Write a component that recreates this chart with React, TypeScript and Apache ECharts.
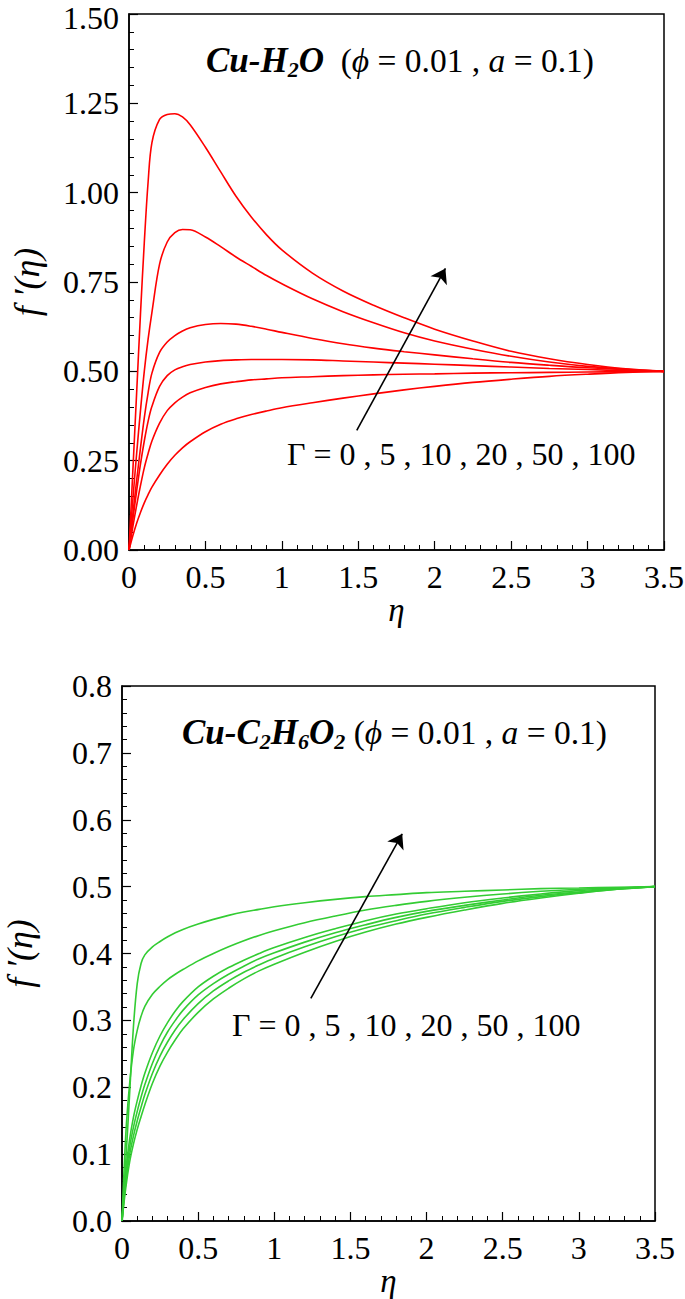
import React, { useEffect, useRef } from "react";
import * as echarts from "echarts";

// eta grid shared by all curves
const ETA = [0, 0.025, 0.05, 0.075, 0.1, 0.125, 0.15, 0.2, 0.25, 0.3, 0.35, 0.4, 0.5, 0.6, 0.7, 0.8, 0.9, 1.0, 1.2, 1.4, 1.6, 1.8, 2.0, 2.25, 2.5, 2.75, 3.0, 3.25, 3.5];
const GAMMAS = [0, 5, 10, 20, 50, 100];

// Cu-H2O, f'(eta) for Gamma = 0, 5, 10, 20, 50, 100
const H2O_G0 = [0, 0.04, 0.075, 0.105, 0.132, 0.155, 0.176, 0.21, 0.24, 0.265, 0.286, 0.303, 0.331, 0.352, 0.367, 0.379, 0.389, 0.398, 0.412, 0.425, 0.437, 0.448, 0.458, 0.469, 0.478, 0.486, 0.492, 0.497, 0.5];
const H2O_G5 = [0, 0.065, 0.125, 0.18, 0.23, 0.27, 0.305, 0.355, 0.39, 0.412, 0.428, 0.44, 0.455, 0.465, 0.471, 0.476, 0.479, 0.482, 0.485, 0.488, 0.49, 0.492, 0.493, 0.495, 0.496, 0.497, 0.498, 0.499, 0.5];
const H2O_G10 = [0, 0.085, 0.165, 0.24, 0.305, 0.36, 0.402, 0.458, 0.488, 0.504, 0.513, 0.519, 0.526, 0.53, 0.532, 0.533, 0.533, 0.533, 0.532, 0.529, 0.526, 0.523, 0.52, 0.516, 0.512, 0.508, 0.505, 0.502, 0.5];
const H2O_G20 = [0, 0.1, 0.195, 0.285, 0.37, 0.44, 0.495, 0.553, 0.582, 0.6, 0.613, 0.622, 0.631, 0.634, 0.632, 0.626, 0.618, 0.609, 0.592, 0.577, 0.565, 0.555, 0.546, 0.535, 0.525, 0.517, 0.51, 0.505, 0.5];
const H2O_G50 = [0, 0.14, 0.27, 0.39, 0.5, 0.59, 0.665, 0.8, 0.862, 0.888, 0.897, 0.896, 0.876, 0.849, 0.82, 0.794, 0.768, 0.745, 0.703, 0.667, 0.636, 0.608, 0.585, 0.562, 0.542, 0.526, 0.514, 0.506, 0.5];
const H2O_G100 = [0, 0.22, 0.44, 0.66, 0.86, 1.03, 1.14, 1.205, 1.219, 1.221, 1.212, 1.19, 1.127, 1.058, 0.99, 0.932, 0.882, 0.84, 0.775, 0.725, 0.685, 0.65, 0.618, 0.585, 0.556, 0.535, 0.519, 0.507, 0.5];

// Cu-C2H6O2
const EG_G0 = [0, 0.05, 0.088, 0.115, 0.137, 0.156, 0.174, 0.206, 0.232, 0.253, 0.271, 0.287, 0.312, 0.332, 0.348, 0.362, 0.374, 0.384, 0.402, 0.418, 0.432, 0.444, 0.454, 0.465, 0.475, 0.483, 0.49, 0.496, 0.5];
const EG_G5 = [0, 0.058, 0.099, 0.127, 0.15, 0.17, 0.189, 0.221, 0.247, 0.268, 0.286, 0.301, 0.325, 0.344, 0.359, 0.372, 0.383, 0.393, 0.41, 0.425, 0.438, 0.449, 0.459, 0.469, 0.478, 0.485, 0.491, 0.496, 0.5];
const EG_G10 = [0, 0.066, 0.11, 0.14, 0.164, 0.185, 0.204, 0.236, 0.262, 0.283, 0.3, 0.315, 0.338, 0.355, 0.369, 0.381, 0.392, 0.401, 0.417, 0.431, 0.443, 0.454, 0.463, 0.472, 0.48, 0.487, 0.492, 0.497, 0.5];
const EG_G20 = [0, 0.075, 0.122, 0.155, 0.18, 0.202, 0.221, 0.252, 0.277, 0.297, 0.314, 0.328, 0.35, 0.366, 0.379, 0.39, 0.4, 0.409, 0.424, 0.437, 0.449, 0.459, 0.467, 0.476, 0.483, 0.489, 0.494, 0.497, 0.5];
const EG_G50 = [0, 0.13, 0.205, 0.255, 0.285, 0.306, 0.321, 0.339, 0.351, 0.361, 0.369, 0.376, 0.389, 0.4, 0.41, 0.419, 0.427, 0.434, 0.446, 0.456, 0.465, 0.472, 0.478, 0.484, 0.489, 0.493, 0.496, 0.498, 0.5];
const EG_G100 = [0, 0.09, 0.19, 0.29, 0.355, 0.385, 0.398, 0.41, 0.418, 0.425, 0.431, 0.436, 0.444, 0.451, 0.457, 0.462, 0.466, 0.47, 0.476, 0.481, 0.485, 0.488, 0.491, 0.493, 0.495, 0.497, 0.498, 0.499, 0.5];

const H2O_SERIES = [H2O_G0, H2O_G5, H2O_G10, H2O_G20, H2O_G50, H2O_G100];
const EG_SERIES = [EG_G0, EG_G5, EG_G10, EG_G20, EG_G50, EG_G100];

// arrows (data coordinates)
const H2O_ARROW = [[1.49, 0.335], [2.07, 0.788]];
const EG_ARROW = [[1.24, 0.333], [1.84, 0.579]];

const X_MAX = 3.5;
const H2O_Y_MAX = 1.5;
const EG_Y_MAX = 0.8;

const FONT = "'Liberation Serif', 'DejaVu Serif', serif";
const GAMMA_TEXT = "Γ = 0 , 5 , 10 , 20 , 50 , 100";

export default function App() {
  const ref = useRef<HTMLDivElement>(null);
  useEffect(() => {
    if (!ref.current) return;
    const chart = echarts.init(ref.current, null, { renderer: "svg" });

    const axisCommon = {
      axisLine: { show: true, onZero: false, lineStyle: { color: "#000", width: 1.5 } },
      axisTick: { show: true, inside: true, length: 9, lineStyle: { color: "#000", width: 1.2 } },
      minorTick: { show: true, splitNumber: 5, length: 5, lineStyle: { color: "#000", width: 1 } },
      splitLine: { show: false },
      axisLabel: { color: "#000", fontFamily: FONT, fontSize: 32, lineHeight: 26 },
    };

    const xAxisDef = (gridIndex: number) => ({
      ...axisCommon,
      type: "value",
      gridIndex,
      min: 0,
      max: X_MAX,
      interval: 0.5,
      axisLabel: { ...axisCommon.axisLabel, margin: 14, formatter: (v: number) => String(v) },
      name: "η",
      nameLocation: "middle",
      nameGap: 42,
      nameTextStyle: { color: "#000", fontFamily: FONT, fontSize: 33, fontStyle: "italic", lineHeight: 30 },
    });

    const yAxisDef = (gridIndex: number, max: number, interval: number, digits: number, shiftTop: boolean) => ({
      ...axisCommon,
      type: "value",
      gridIndex,
      min: 0,
      max,
      interval,
      axisLabel: {
        ...axisCommon.axisLabel,
        margin: 10,
        formatter: (v: number) => (shiftTop && v === max ? `{t|${v.toFixed(digits)}}` : v.toFixed(digits)),
        rich: { t: { fontFamily: FONT, fontSize: 32, color: "#000", lineHeight: 26, padding: [8, 0, 0, 0] } },
      },
      name: "f ′(η)",
      nameLocation: "middle",
      nameRotate: 90,
      nameGap: 84,
      nameTextStyle: { color: "#000", fontFamily: FONT, fontSize: 36, fontStyle: "italic" },
    });

    const lineSeries = (vals: number[], idx: number, color: string, gamma: number) => ({
      type: "line",
      name: `Γ=${gamma}`,
      xAxisIndex: idx,
      yAxisIndex: idx,
      data: ETA.map((e, i) => [e, vals[i]]),
      showSymbol: false,
      smooth: 0.35,
      lineStyle: { color, width: 1.6 },
      silent: true,
    });

    const arrowSeries = (idx: number, pts: number[][]) => ({
      type: "line",
      xAxisIndex: idx,
      yAxisIndex: idx,
      data: [],
      markLine: {
        silent: true,
        symbol: ["none", "arrow"],
        symbolSize: 14,
        label: { show: false },
        lineStyle: { color: "#000", width: 1.6, type: "solid" },
        data: [[{ coord: pts[0] }, { coord: pts[1] }]],
      },
    });

    const sub = { fontFamily: FONT, fontSize: 22, fontWeight: "bold", fontStyle: "italic", color: "#000", lineHeight: 22, verticalAlign: "bottom" };
    const rich = {
      b: { fontFamily: FONT, fontSize: 35, fontWeight: "bold", fontStyle: "italic", color: "#000", lineHeight: 40 },
      s: sub,
      r: { fontFamily: FONT, fontSize: 33.5, color: "#000", lineHeight: 40 },
      i: { fontFamily: FONT, fontSize: 33.5, fontStyle: "italic", color: "#000", lineHeight: 40 },
    };

    const option = {
      animation: false,
      backgroundColor: "#fff",
      grid: [
        { left: 129, top: 14, width: 535, height: 536, show: true, borderColor: "#000", borderWidth: 1.5, backgroundColor: "transparent", outerBoundsMode: "none", containLabel: false },
        { left: 122, top: 686, width: 533, height: 535, show: true, borderColor: "#000", borderWidth: 1.5, backgroundColor: "transparent", outerBoundsMode: "none", containLabel: false },
      ],
      xAxis: [xAxisDef(0), xAxisDef(1)],
      yAxis: [yAxisDef(0, H2O_Y_MAX, 0.25, 2, true), yAxisDef(1, EG_Y_MAX, 0.1, 1, false)],
      series: [
        ...H2O_SERIES.map((v, k) => lineSeries(v, 0, "#ff0000", GAMMAS[k])),
        ...EG_SERIES.map((v, k) => lineSeries(v, 1, "#33cc33", GAMMAS[k])),
        arrowSeries(0, H2O_ARROW),
        arrowSeries(1, EG_ARROW),
      ],
      graphic: [
        {
          type: "text",
          left: 206,
          top: 43,
          silent: true,
          style: { text: "{b|Cu-H}{s|2}{b|O}{r|  (}{i|ϕ}{r| = 0.01 , }{i|a}{r| = 0.1)}", rich },
        },
        {
          type: "text",
          left: 182,
          top: 715,
          silent: true,
          style: { text: "{b|Cu-C}{s|2}{b|H}{s|6}{b|O}{s|2}{r| (}{i|ϕ}{r| = 0.01 , }{i|a}{r| = 0.1)}", rich },
        },
        {
          type: "text",
          left: 287,
          top: 438,
          silent: true,
          style: { text: GAMMA_TEXT, fontFamily: FONT, fontSize: 32, fill: "#000" },
        },
        {
          type: "text",
          left: 232,
          top: 1009,
          silent: true,
          style: { text: GAMMA_TEXT, fontFamily: FONT, fontSize: 32, fill: "#000" },
        },
      ],
    };
    chart.setOption(option as any);
    return () => chart.dispose();
  }, []);
  return <div ref={ref} style={{ position: "absolute", left: 0, top: 0, width: 685, height: 1299 }} />;
}
